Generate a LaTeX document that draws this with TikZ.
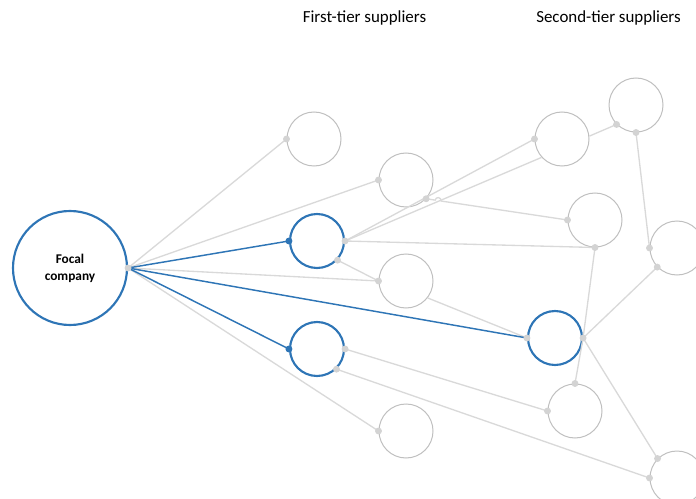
\documentclass[tikz,border=0pt]{standalone}
\usepackage{fontspec}
\setmainfont{Carlito}
\usetikzlibrary{calc}
\definecolor{linkgray}{HTML}{D9D9D9}
\definecolor{ringgray}{HTML}{BFBFBF}
\definecolor{dotgray}{HTML}{D3D3D3}
\definecolor{tierblue}{HTML}{2E75B6}

\begin{document}
\begin{tikzpicture}[x=0.75pt,y=-0.75pt,
  firm/.style={circle,draw=ringgray,line width=0.75pt,minimum size=40.5pt,inner sep=0pt},
  keyfirm/.style={firm,draw=tierblue,line width=1.6pt},
  link/.style={draw=linkgray,line width=1pt},
  keylink/.style={draw=tierblue,line width=1.1pt},
  heading/.style={font=\fontsize{12.7}{15}\selectfont,inner sep=0pt}]

\path[use as bounding box] (0,0) rectangle (696,499);
\clip (0,0) rectangle (696,499);

% tier headings
\node[heading] (t1) at (364.5,18) {First-tier suppliers};
\node[heading] (t2) at (608.5,18) {Second-tier suppliers};

% focal company
\node[keyfirm,minimum size=85.5pt,align=center,
      font=\bfseries\fontsize{10}{12.75}\selectfont] (F) at (70,268) {Focal\\company};

% first-tier suppliers
\node[firm]    (A) at (314,139) {};
\node[firm]    (B) at (406,180) {};
\node[keyfirm] (C) at (317,241) {};
\node[firm]    (D) at (406,281) {};
\node[keyfirm] (E) at (317,349) {};
\node[firm]    (G) at (406,431) {};

% second-tier suppliers
\node[firm]    (H) at (562,139) {};
\node[firm]    (I) at (636,105) {};
\node[firm]    (J) at (595,220) {};
\node[firm]    (K) at (677,248) {};
\node[keyfirm] (L) at (555,338) {};
\node[firm]    (M) at (575,411) {};
\node[firm]    (N) at (677,478) {};

% grey supply links
\draw[link] (F.0) -- (A.180);
\draw[link] (F.0) -- (B.180);
\draw[link] (F.0) -- (D.180);
\draw[link] (F.0) -- (G.180);
\draw[link] (C.0) -- (H.180);
\draw[link] (C.0) -- (H.-138);
\draw[link] (C.0) -- (J.270);
\draw[link] (C.-43.5) -- (D.180);
\draw[link] (D.-38) -- (L.180);
\draw[link] (E.0) -- (M.180);
\draw[link] (E.-46) -- (N.180);
\draw[link] (L.0) -- (J.270);
\draw[link] (L.0) -- (K.224);
\draw[link] (L.0) -- (M.90);
\draw[link] (L.0) -- (N.135);
\draw[link] (H.6.6) -- (I.225);
\draw[link] (I.270) -- (K.180);
% B to J, hopping over the link from C to H
\draw[link] (B.-43.5) -- ($(B.-43.5)!0.064!(J.180)$)
  arc[start angle=171.2,end angle=-8.8,radius=2.25pt]
  -- (J.180);

% highlighted links
\draw[keylink] (F.0) -- (C.180);
\draw[keylink] (F.0) -- (E.180);
\draw[keylink] (F.0) -- (L.180);

% connection dots
\foreach \p in {F.0,A.180,B.180,B.-43.5,C.0,C.-43.5,D.180,E.0,E.-46,G.180,
                H.180,I.225,I.270,J.180,J.270,K.180,K.224,L.180,L.0,M.180,M.90,
                N.180,N.135}
  \fill[dotgray] (\p) circle (2.6pt);
\foreach \p in {C.180,E.180}
  \fill[tierblue] (\p) circle (2.6pt);
\end{tikzpicture}
\end{document}
